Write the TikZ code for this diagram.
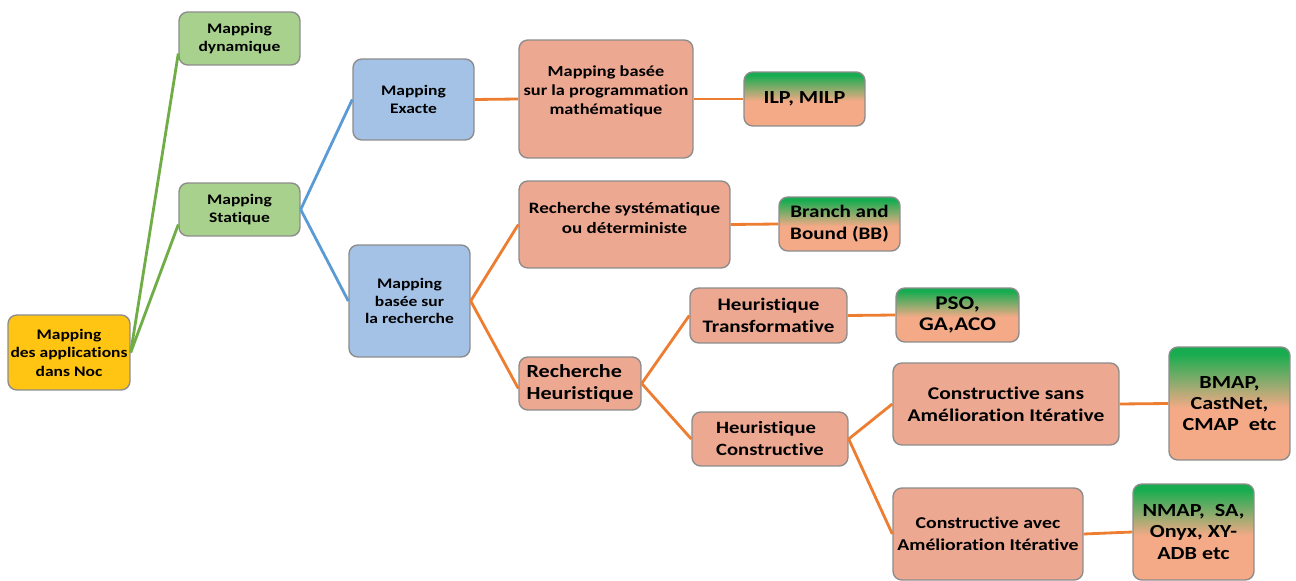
\documentclass[tikz,border=0pt]{standalone}
\usepackage{fontspec}
\setmainfont{Carlito}[FakeStretch=1.2,Ligatures=NoCommon]
\definecolor{rootyel}{RGB}{255,197,18}
\definecolor{levgreen}{RGB}{169,209,142}
\definecolor{levblue}{RGB}{163,194,230}
\definecolor{salmon}{RGB}{237,168,146}
\definecolor{leafsal}{RGB}{245,170,135}
\definecolor{leafgrn}{RGB}{24,172,80}
\definecolor{lgreen}{RGB}{112,173,71}
\definecolor{lblue}{RGB}{91,155,213}
\definecolor{lorange}{RGB}{237,125,49}
\pgfdeclareverticalshading{leafshade}{100bp}{color(0bp)=(leafsal); color(48bp)=(leafsal); color(72bp)=(leafgrn); color(100bp)=(leafgrn)}
\newcommand\fsz[2]{\bfseries\fontsize{#1}{#2}\selectfont}

\begin{document}
\begin{tikzpicture}[x=0.02cm,y=-0.02cm,
  box/.style={draw=black!45,line width=0.8pt,rounded corners=5pt,align=center,
    inner xsep=1pt,inner ysep=2pt,font=\fsz{9}{10.5}},
  rootbox/.style={box,fill=rootyel,font=\fsz{8.3}{10.5}},
  greenbox/.style={box,fill=levgreen,font=\fsz{8.3}{10.2}},
  bluebox/.style={box,fill=levblue,font=\fsz{8.3}{10.2}},
  salbox/.style={box,fill=salmon,font=\fsz{10}{12.5}},
  leafbox/.style={box,shading=leafshade,font=\fsz{10.5}{12}},
  gline/.style={lgreen,line width=1.6pt},
  bline/.style={lblue,line width=1.6pt},
  oline/.style={lorange,line width=1.6pt}]

  \useasboundingbox (0,0) rectangle (1296,581);

  % Root and first level
  \node[rootbox,minimum width=2.44cm,minimum height=1.5cm] (root) at (69,352.5) {Mapping\\des applications\\dans Noc};
  \node[greenbox,minimum width=2.42cm,minimum height=1.06cm] (dyn) at (239.5,38.5) {Mapping\\dynamique};
  \node[greenbox,minimum width=2.42cm,minimum height=1.06cm] (stat) at (239.5,209.5) {Mapping\\Statique};

  % Static mapping
  \node[bluebox,minimum width=2.42cm,minimum height=1.62cm] (exact) at (413.5,99.5) {Mapping\\Exacte};
  \node[bluebox,minimum width=2.42cm,minimum height=2.24cm] (search) at (409.5,301) {Mapping\\basée sur\\la recherche};

  % Exact branch
  \node[salbox,font=\fsz{8.7}{11},minimum width=3.48cm,minimum height=2.36cm,text depth=0.35cm] (math) at (606,99) {Mapping basée\\sur la programmation\\mathématique};
  \node[leafbox,minimum width=2.42cm,minimum height=1.08cm] (ilp) at (804.5,99) {ILP, MILP};

  % Search branch
  \node[salbox,font=\fsz{9}{11.3},minimum width=4.22cm,minimum height=1.74cm,text depth=0.25cm] (syst) at (624.5,224.5) {Recherche systématique\\ou déterministe};
  \node[leafbox,font=\fsz{10}{12.5},minimum width=2.42cm,minimum height=1.08cm] (bb) at (839.5,224) {Branch and\\Bound (BB)};
  \node[salbox,align=left,font=\fsz{10.5}{12.5},minimum width=2.44cm,minimum height=1.06cm] (heur) at (580,383.5) {Recherche\\Heuristique};

  % Heuristics
  \node[salbox,minimum width=3.14cm,minimum height=1.1cm] (trans) at (768.5,315.5) {Heuristique\\Transformative};
  \node[leafbox,font=\fsz{11}{12},minimum width=2.46cm,minimum height=1.08cm] (pso) at (957.5,315) {PSO,\\GA,ACO};
  \node[salbox,align=left,font=\fsz{9.8}{12.5},minimum width=3.12cm,minimum height=1.08cm] (cons) at (770,439) {Heuristique\\Constructive};
  \node[salbox,font=\fsz{10.2}{12.5},minimum width=4.52cm,minimum height=1.64cm] (sans) at (1006,404) {Constructive sans\\Amélioration Itérative};
  \node[leafbox,minimum width=2.42cm,minimum height=2.26cm] (bmap) at (1229.5,403.5) {BMAP,\\CastNet,\\CMAP\ \ etc};
  \node[salbox,font=\fsz{9.4}{12.5},minimum width=3.8cm,minimum height=1.84cm] (avec) at (988,534) {Constructive avec\\Amélioration Itérative};
  \node[leafbox,minimum width=2.42cm,minimum height=1.92cm] (nmap) at (1193.5,532) {NMAP,\ \ SA,\\Onyx, XY-\\ADB etc};

  % Connectors
  \draw[gline] (root.east) -- ([yshift=-0.3cm]dyn.west);
  \draw[gline] (root.east) -- ([yshift=-0.3cm]stat.west);
  \draw[bline] (stat.east) -- (exact.west);
  \draw[bline] (stat.east) -- (search.west);
  \draw[oline] (exact.east) -- (math.west);
  \draw[oline] (math.east) -- (ilp.west);
  \draw[oline] (search.east) -- (syst.west);
  \draw[oline] (search.east) -- ([yshift=-0.1cm]heur.west);
  \draw[oline] (syst.east) -- (bb.west);
  \draw[oline] (heur.east) -- (trans.west);
  \draw[oline] (heur.east) -- (cons.west);
  \draw[oline] (trans.east) -- (pso.west);
  \draw[oline] (cons.east) -- (sans.west);
  \draw[oline] (cons.east) -- (avec.west);
  \draw[oline] (sans.east) -- (bmap.west);
  \draw[oline] (avec.east) -- (nmap.west);

\end{tikzpicture}
\end{document}
